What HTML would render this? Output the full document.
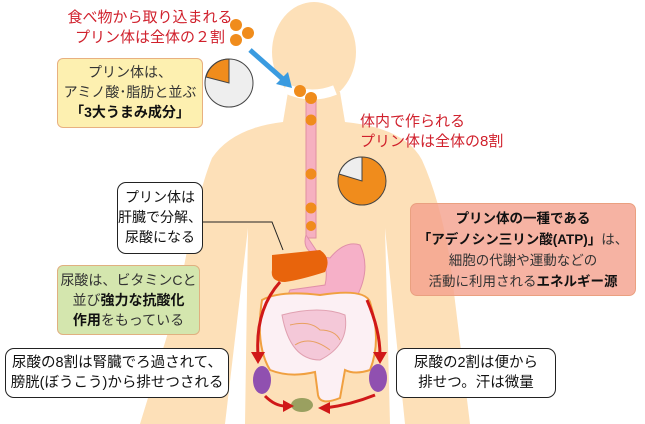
<!DOCTYPE html>
<html><head><meta charset="utf-8"><style>
body{margin:0;background:#fff;width:645px;height:424px;overflow:hidden;position:relative;font-family:"Liberation Sans","Noto Sans CJK JP",sans-serif;}
.b{position:absolute;box-sizing:border-box;text-align:center;color:#333;font-size:14px;line-height:20px;white-space:nowrap;}
.r{position:absolute;color:#d0202c;font-size:15px;line-height:20px;text-align:center;white-space:nowrap;}
b{color:#111}
</style></head><body>
<svg width="645" height="424" style="position:absolute;left:0;top:0">
<g fill="#fde0b8">
<ellipse cx="314" cy="52" rx="42" ry="50"/>
<path d="M288 92 L340 92 L345 122 Q405 128 422 160 Q440 200 450 260 L470 424 L405 424 L385 228 L390 424 L245 424 L248 228 L225 424 L140 424 L178 300 Q195 200 212 158 Q232 128 283 122 Z"/>
</g>
<path d="M285 88 Q310 100 335 90" stroke="#fff" stroke-width="10" fill="none"/>
<rect x="306" y="98" width="10" height="140" fill="#f6b0c0" stroke="#e090a0"/>
<path d="M306 235 Q300 255 330 258 Q345 240 360 245 Q372 270 355 300 Q330 320 300 320 Q280 310 290 290 L325 285 Q330 265 316 250 Z" fill="#f6b0c8" stroke="#e090a8"/>
<path d="M272 255 L320 250 Q332 258 325 272 Q300 280 285 282 Q270 282 272 270 Z" fill="#e8640c"/>
<path d="M262 300 Q280 290 320 295 Q365 288 370 302 Q382 340 370 370 Q355 375 345 370 L340 398 Q320 406 318 395 L315 372 Q290 378 270 370 Q255 345 262 300 Z" fill="#fcf0f4" stroke="#f0a040" stroke-width="2"/>
<path d="M282 315 Q320 305 345 315 Q350 345 320 360 Q290 360 282 315 Z" fill="#f4c8d8" stroke="#e0a0b0"/>
<path d="M290 325 Q310 320 320 330 Q335 330 340 340 M295 345 Q310 335 330 350" stroke="#e8a060" fill="none"/>
<ellipse cx="262" cy="380" rx="9" ry="14" fill="#9050b0"/>
<ellipse cx="378" cy="378" rx="9" ry="14" fill="#9050b0"/>
<ellipse cx="302" cy="405" rx="11" ry="7" fill="#9aa060"/>
<g stroke="#d01818" stroke-width="3" fill="none">
<path d="M280 282 Q255 310 258 355"/><path d="M367 300 Q380 330 380 355"/>
<path d="M265 396 Q275 406 285 406"/><path d="M375 395 Q350 405 325 408"/>
</g>
<g fill="#d01818">
<path d="M251 352 L265 352 L258 364Z"/><path d="M373 352 L387 352 L380 364Z"/>
<path d="M283 400 L294 406 L283 412Z"/><path d="M330 402 L318 408 L330 414Z"/>
</g>
<path d="M250 50 L284 80" stroke="#3a9be0" stroke-width="5"/>
<path d="M292 88 L276 84 L288 72Z" fill="#3a9be0"/>
<g fill="#f08c1c"><circle cx="236" cy="25" r="6"/><circle cx="248" cy="33" r="6"/><circle cx="236" cy="40" r="6"/>
<circle cx="300" cy="91" r="6"/><circle cx="311" cy="98" r="6"/><circle cx="311" cy="120" r="5.5"/><circle cx="311" cy="174" r="5.5"/><circle cx="311" cy="208" r="5.5"/><circle cx="311" cy="226" r="5"/></g>
<circle cx="229" cy="83" r="24" fill="#eeeeee" stroke="#444"/>
<path d="M229 83 L229 59 A24 24 0 0 0 206 77 Z" fill="#f08c1c" stroke="#444"/>
<circle cx="362" cy="181" r="24" fill="#f08c1c" stroke="#444"/>
<path d="M362 181 L362 157 A24 24 0 0 0 339 174 Z" fill="#eeeeee" stroke="#444"/>
<path d="M202 222 L272 222 L283 250" stroke="#222" fill="none"/>
</svg>
<div class="r" style="left:60px;top:8px;width:180px">食べ物から取り込まれる<br>プリン体は全体の２割</div>
<div class="r" style="left:360px;top:112px;text-align:left">体内で作られる<br>プリン体は全体の8割</div>
<div class="b" style="left:57px;top:58px;width:146px;height:70px;background:#fdf0b0;border:1.5px solid #e8b080;border-radius:6px;padding-top:3px">プリン体は、<br>アミノ酸･脂肪と並ぶ<br><b>「3大うまみ成分」</b></div>
<div class="b" style="left:117px;top:182px;width:86px;height:72px;background:#fff;border:1.5px solid #222;border-radius:9px;padding-top:4px;color:#111">プリン体は<br>肝臓で分解、<br>尿酸になる</div>
<div class="b" style="left:57px;top:265px;width:143px;height:70px;background:#d4e6ae;border:1.5px solid #e0b080;border-radius:6px;padding-top:4px">尿酸は、ビタミンCと<br>並び<b>強力な抗酸化</b><br><b>作用</b>をもっている</div>
<div class="b" style="left:410px;top:203px;width:226px;height:93px;background:rgba(244,160,140,0.8);border:1.5px solid #eaa080;border-radius:7px;padding-top:4px;line-height:21px;font-size:13.5px"><b>プリン体の一種である</b><br><b>「アデノシン三リン酸(ATP)」</b>は、<br>細胞の代謝や運動などの<br>活動に利用される<b>エネルギー源</b></div>
<div class="b" style="left:5px;top:348px;width:224px;height:50px;background:#fff;border:1.5px solid #222;border-radius:9px;padding-top:4px;color:#111;font-size:14.5px">尿酸の8割は腎臓でろ過されて、<br>膀胱(ぼうこう)から排せつされる</div>
<div class="b" style="left:396px;top:348px;width:160px;height:50px;background:#fff;border:1.5px solid #222;border-radius:9px;padding-top:4px;color:#111;font-size:14.5px">尿酸の2割は便から<br>排せつ。汗は微量</div>
</body></html>
